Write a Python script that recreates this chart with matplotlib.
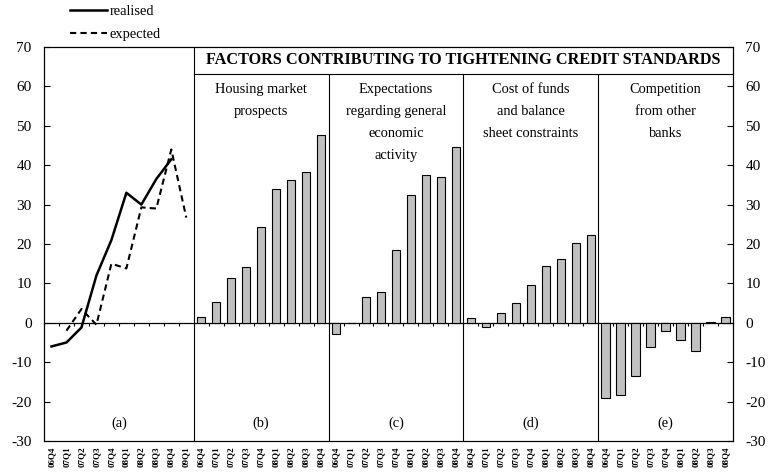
import matplotlib.pyplot as plt
import numpy as np

plt.rcParams['font.family'] = ['Liberation Serif', 'DejaVu Serif']
plt.rcParams['axes.unicode_minus'] = False

# quarters
quarters_a = ['06Q4', '07Q1', '07Q2', '07Q3', '07Q4', '08Q1', '08Q2', '08Q3', '08Q4', '09Q1']
quarters_f = ['06Q4', '07Q1', '07Q2', '07Q3', '07Q4', '08Q1', '08Q2', '08Q3', '08Q4']

# panel (a): overall credit standards, net percentages
realised = [-6, -5, -1.2, 12, 21, 33, 30, 36.5, 41.5, np.nan]
expected = [np.nan, -2, 3.5, -0.5, 15, 13.8, 29.3, 29, 44, 26.7]

# factors (b)-(e)
housing = [1.5, 5.3, 11.3, 14.2, 24.3, 34, 36.2, 38.3, 47.6]
expectations = [-2.8, 0, 6.6, 7.9, 18.4, 32.4, 37.5, 37, 44.6]
cost_funds = [1.2, -1.0, 2.4, 5.0, 9.7, 14.4, 16.2, 20.2, 22.2]
competition = [-19.1, -18.3, -13.4, -6.1, -2.0, -4.4, -7.1, 0.2, 1.4]

factor_titles = ['Housing market\nprospects',
                 'Expectations\nregarding general\neconomic\nactivity',
                 'Cost of funds\nand balance\nsheet constraints',
                 'Competition\nfrom other\nbanks']
panel_tags = ['(a)', '(b)', '(c)', '(d)', '(e)']
header = 'FACTORS CONTRIBUTING TO TIGHTENING CREDIT STANDARDS'

labels = quarters_a + quarters_f * 4
n_a = len(quarters_a)
n_f = len(quarters_f)

fig = plt.figure(figsize=(7.68, 4.72), dpi=100)
ax = fig.add_axes([0.0573, 0.0657, 0.897, 0.8347])

x_a = np.arange(n_a)
ax.plot(x_a, realised, color='black', lw=1.8, label='realised')
ax.plot(x_a, expected, color='black', lw=1.5, ls=(0, (3, 2)), label='expected')

factors = [housing, expectations, cost_funds, competition]
for k, vals in enumerate(factors):
    xs = n_a + k * n_f + np.arange(n_f)
    ax.bar(xs, vals, width=0.55, color='#c0c0c0', edgecolor='black', lw=0.8, zorder=3)

ax.set_xlim(-0.5, len(labels) - 0.5)
ax.set_ylim(-30, 70)
ax.set_yticks(np.arange(-30, 71, 10))
ax.tick_params(axis='y', direction='in', length=4, pad=9, labelsize=11)
ax.set_xticks(np.arange(len(labels)))
ax.set_xticklabels(labels, rotation=90, fontsize=6.5, fontweight='bold')
ax.tick_params(axis='x', length=0, pad=4)

ax2 = ax.twinx()
ax2.set_ylim(-30, 70)
ax2.set_yticks(np.arange(-30, 71, 10))
ax2.tick_params(axis='y', direction='in', length=4, pad=9, labelsize=11)

# zero line with quarter ticks
zax = ax.secondary_xaxis(0.3)
zax.set_xticks(np.arange(len(labels) + 1) - 0.5)
zax.set_xticklabels([])
zax.tick_params(direction='out', length=2, width=0.8)
zax.spines['bottom'].set_linewidth(0.9)

# panel dividers and header box
head_y = 63.2
starts = [n_a + k * n_f - 0.5 for k in range(4)]
ax.vlines(starts[0], -30, 70, color='black', lw=0.8)
ax.vlines(starts[1:], -30, head_y, color='black', lw=0.8)
ax.hlines(head_y, starts[0], len(labels) - 0.5, color='black', lw=0.8)
ax.text((starts[0] + len(labels) - 0.5) / 2, (head_y + 70) / 2, header,
        ha='center', va='center', fontsize=11.7, fontweight='bold')

for k, t in enumerate(factor_titles):
    cx = n_a + k * n_f + (n_f - 1) / 2
    ax.text(cx, 60.8, t, ha='center', va='top', fontsize=10.4, linespacing=1.88)

centers = [(n_a - 1) / 2] + [n_a + k * n_f + (n_f - 1) / 2 for k in range(4)]
for cx, tag in zip(centers, panel_tags):
    ax.text(cx, -25.6, tag, ha='center', va='center', fontsize=10.4)

ax.legend(loc='lower left', bbox_to_anchor=(0.03, 1.0), frameon=False, fontsize=10.4,
          handlelength=2.5, handletextpad=0.2, labelspacing=0.7, borderaxespad=0.0)

fig.savefig('out.png', dpi=100)
